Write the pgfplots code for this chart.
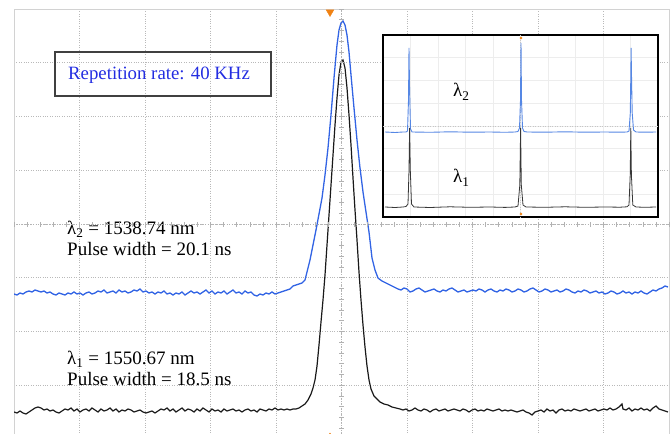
\documentclass[border=0pt]{standalone}
\usepackage{pgfplots}
\pgfplotsset{compat=1.18}
\usepackage{fontspec}
\setmainfont{Liberation Serif}

\definecolor{traceblue}{RGB}{50,100,228}
\definecolor{traceblack}{RGB}{25,25,25}
\definecolor{insetblue}{RGB}{85,135,228}
\definecolor{insetblack}{RGB}{55,55,55}
\definecolor{txtblue}{RGB}{35,45,225}
\definecolor{trig}{RGB}{240,130,20}

\begin{document}
\begin{tikzpicture}
\useasboundingbox (0bp,0bp) rectangle (670bp,434bp);
\clip (0bp,0bp) rectangle (670bp,434bp);

% main screen, coordinates in screen pixels (y counted downwards)
\begin{axis}[
    at={(14bp,-5bp)}, anchor=south west,
    scale only axis, width=655bp, height=430bp,
    xmin=14, xmax=669, ymin=9, ymax=439, y dir=reverse,
    xtick={14,79.5,...,669}, ytick={9,62.75,...,439},
    xticklabels={}, yticklabels={}, major tick length=0pt,
    grid=major, grid style={dotted, gray!55, line width=0.6bp},
    axis line style={gray!35, line width=0.8bp},
]
% blue trace (lambda 2)
\addplot[traceblue, line width=1.3bp] coordinates {
(14,294)(17,295)(20,293)(23,294)(26,292)(29,291)(32,292)(35,290)(38,291)(41,292)
(44,291)(47,293)(50,292)(53,294)(56,295)(59,293)(62,294)(65,295)(68,293)(71,294)
(74,292)(77,294)(80,293)(83,295)(86,293)(89,292)(92,294)(95,293)(98,291)(101,292)
(104,290)(107,293)(110,292)(113,291)(116,293)(119,290)(122,292)(125,291)(128,293)(131,292)
(134,290)(137,291)(140,289)(143,292)(146,291)(149,293)(152,292)(155,294)(158,292)(161,293)
(164,291)(167,294)(170,293)(173,295)(176,293)(179,294)(182,292)(185,295)(188,293)(191,291)
(194,293)(197,292)(200,294)(203,292)(206,290)(209,293)(212,291)(215,294)(218,292)(221,293)
(224,291)(227,294)(230,292)(233,290)(236,293)(239,292)(242,294)(245,291)(248,293)(251,292)
(254,295)(257,296)(260,294)(263,295)(266,293)(269,294)(272,292)(275,294)(278,293)(281,292)
(284,291)(287,290)
(290,289)(293,286)(296,285)(299,284)(302,283)(305,280)(307,272)(310,260)(313,245)(316,230)
(319,214)(322,198)(325,175)(328,148)(331,115)(334,78)(337,45)(339,30)(341,23)(343,21)
(345,25)(347,35)(349,52)(351,75)(354,108)(357,140)(360,168)(363,192)(366,212)(369,232)
(372,258)(375,270)(378,278)(382,281)(386,283)(390,285)(394,287)(398,289)
(401,290)(404,288)(407,289)(410,292)(413,291)(416,289)(419,288)(422,290)(425,292)(428,291)
(431,290)(434,289)(437,291)(440,292)(443,290)(446,291)(449,289)(452,288)(455,290)(458,292)
(461,291)(464,290)(467,292)(470,291)(473,290)(476,291)(479,289)(482,290)(485,292)(488,290)
(491,289)(494,291)(497,292)(500,290)(503,291)(506,289)(509,290)(512,292)(515,291)(518,289)
(521,290)(524,292)(527,291)(530,289)(533,288)(536,290)(539,292)(542,291)(545,289)(548,290)
(551,292)(554,291)(557,290)(560,292)(563,291)(566,289)(569,290)(572,292)(575,293)(578,291)
(581,292)(584,290)(587,291)(590,293)(593,292)(596,291)(599,293)(602,292)(605,294)(608,293)
(611,291)(614,292)(617,294)(620,293)(623,291)(626,293)(629,292)(632,294)(635,292)(638,293)
(641,291)(644,293)(647,294)(650,292)(653,290)(656,291)(659,289)(662,288)(665,286)(668,287)
};
% black trace (lambda 1)
\addplot[traceblack, line width=1.2bp] coordinates {
(14,412)(17,413)(20,411)(23,413)(26,414)(29,412)(32,410)(35,408)(38,407)(41,408)
(44,410)(47,409)(50,411)(53,410)(56,412)(59,413)(62,411)(65,409)(68,410)(71,408)
(74,411)(77,409)(80,412)(83,410)(86,409)(89,411)(92,408)(95,410)(98,412)(101,409)
(104,411)(107,410)(110,408)(113,411)(116,409)(119,412)(122,410)(125,411)(128,409)(131,410)
(134,412)(137,411)(140,410)(143,412)(146,413)(149,412)(152,411)(155,413)(158,411)(161,409)
(164,410)(167,408)(170,411)(173,409)(176,412)(179,410)(182,408)(185,411)(188,409)(191,410)
(194,412)(197,409)(200,411)(203,408)(206,410)(209,412)(212,409)(215,411)(218,410)(221,412)
(224,409)(227,411)(230,410)(233,409)(236,411)(239,410)(242,412)(245,410)(248,409)(251,411)
(254,410)(257,412)(260,409)(263,410)(266,411)(269,409)(272,410)(275,408)(278,410)(281,409)
(284,410)(287,409)(290,410)(293,409)
(296,409)(299,408)(302,406)(305,404)(308,400)(311,394)(313,388)(315,380)(317,366)(319,345)
(321,322)(323,300)(325,275)(327,245)(329,215)(331,185)(333,155)(335,125)(337,98)(339,75)
(341,62)(343,60)(345,68)(347,88)(349,115)(351,145)(353,178)(355,210)(357,240)(359,272)
(361,300)(363,325)(365,347)(367,366)(369,380)(371,389)(374,396)(377,399)(380,402)(384,404)
(388,405)(392,407)(396,408)(400,409)
(403,410)(406,409)(409,411)(412,410)(415,408)(418,410)(421,411)(424,409)(427,410)(430,412)
(433,410)(436,409)(439,411)(442,410)(445,409)(448,411)(451,410)(454,409)(457,410)(460,411)
(463,409)(466,410)(469,412)(472,410)(475,409)(478,411)(481,410)(484,411)(487,409)(490,410)
(493,411)(496,410)(499,409)(502,411)(505,410)(508,411)(511,410)(514,411)(517,412)(520,411)
(523,410)(526,412)(529,413)(532,415)(535,412)(538,411)(541,410)(544,412)(547,409)(550,411)
(553,410)(556,413)(559,410)(562,409)(565,411)(568,410)(571,411)(574,409)(577,410)(580,411)
(583,410)(586,409)(589,411)(592,410)(595,409)(598,411)(601,410)(604,409)(607,410)(610,408)
(613,410)(616,409)(619,407)(622,404)(623,409)(626,410)(629,408)(632,411)(635,409)(638,410)
(641,408)(644,410)(647,409)(650,411)(653,408)(656,406)(659,409)(662,410)(665,411)(668,412)
};
% trigger markers
\addplot[only marks, mark=triangle*, mark size=4.5bp,
  mark options={rotate=180, fill=trig, draw=trig}] coordinates {(330,12)};
\addplot[only marks, mark=triangle*, mark size=3bp,
  mark options={fill=trig, draw=trig}] coordinates {(330,436)};

% annotation box
\draw[draw=black!75, line width=1.3bp] (axis cs:55,52) rectangle (axis cs:271,96);
\node[anchor=base west, text=txtblue, font=\fontsize{18.8bp}{21bp}\selectfont,
  inner sep=0pt] at (axis cs:68,79) {Repetition rate: 40 KHz};

\node[anchor=base west, font=\fontsize{19bp}{21bp}\selectfont, inner sep=0pt]
  at (axis cs:67,234) {λ\textsubscript{2} = 1538.74 nm};
\node[anchor=base west, font=\fontsize{19bp}{21bp}\selectfont, inner sep=0pt]
  at (axis cs:67,255) {Pulse width = 20.1 ns};
\node[anchor=base west, font=\fontsize{19bp}{21bp}\selectfont, inner sep=0pt]
  at (axis cs:67,364) {λ\textsubscript{1} = 1550.67 nm};
\node[anchor=base west, font=\fontsize{19bp}{21bp}\selectfont, inner sep=0pt]
  at (axis cs:67,385) {Pulse width = 18.5 ns};
\end{axis}

% centre crosshair with division ticks
\begin{axis}[
    at={(14bp,-5bp)}, anchor=south west,
    scale only axis, width=655bp, height=430bp,
    xmin=-5, xmax=5, ymin=-4, ymax=4,
    axis lines=middle,
    axis line style={-, dotted, gray!60, line width=0.7bp},
    xtick distance=0.2, ytick distance=0.2,
    xticklabels={}, yticklabels={},
    tick align=center, major tick length=5bp,
    tick style={solid, gray!60, line width=0.6bp},
]
\addplot[draw=none] coordinates {(0,0)};
\end{axis}

% inset: pulse train
\begin{axis}[
    at={(383bp,217bp)}, anchor=south west,
    scale only axis, width=275bp, height=182bp,
    xmin=383, xmax=658, ymin=35, ymax=217, y dir=reverse,
    xtick={383,410.5,...,658}, ytick={35,57.75,...,217},
    xticklabels={}, yticklabels={}, major tick length=0pt,
    grid=major, grid style={gray!14, line width=0.5bp},
    extra x ticks={520.5}, extra y ticks={126},
    extra x tick labels={}, extra y tick labels={},
    extra tick style={grid style={dotted, gray!45, line width=0.6bp}},
    axis background/.style={fill=white},
    axis line style={black, line width=2.6bp},
]
\addplot[insetblue, line width=0.9bp] coordinates {
(385,132)(395,132.5)(403,132)(406,132)(407.5,131)(408.5,100)(409,48)(409.5,85)(410.5,129)(412,132)
(430,132.3)(450,131.8)(470,132.2)(490,132)(505,132.3)(515,132)(518,131.5)(519.5,128)(520.5,100)
(521,43)(521.5,100)(522.5,128)(524,131.5)(527,132)(545,132.2)(565,131.8)(585,132.2)(605,132)
(620,132.2)(627,132)(629,131)(630.3,113)(630.8,75)(631.1,48)(631.5,75)(632.2,113)(633.5,130)
(636,132)(645,132.2)(656,132)
};
\addplot[insetblack, line width=0.8bp] coordinates {
(385,207)(395,207.5)(403,207)(406,206.5)(408,204)(409,170)(409.6,128)(410.3,170)(411.5,204)(414,207)
(430,207.5)(450,206.8)(470,207.3)(490,207)(505,207.4)(515,207)(518,206)(519.8,185)(520.6,128)
(521.3,185)(523,205)(526,207)(545,207.3)(565,206.8)(585,207.3)(605,207)(620,207.2)(627,206.8)
(629,205)(630.2,175)(630.8,128)(631.4,175)(632.8,205)(636,207)(645,207.3)(656,207)
};
\addplot[only marks, mark=*, mark size=1.2bp, mark options={fill=trig, draw=trig}]
  coordinates {(521,38)(521,214)};
\node[anchor=base west, font=\fontsize{19bp}{21bp}\selectfont, inner sep=0pt]
  at (axis cs:453,97) {λ\textsubscript{2}};
\node[anchor=base west, font=\fontsize{19bp}{21bp}\selectfont, inner sep=0pt]
  at (axis cs:453,183) {λ\textsubscript{1}};
\end{axis}
\end{tikzpicture}
\end{document}
